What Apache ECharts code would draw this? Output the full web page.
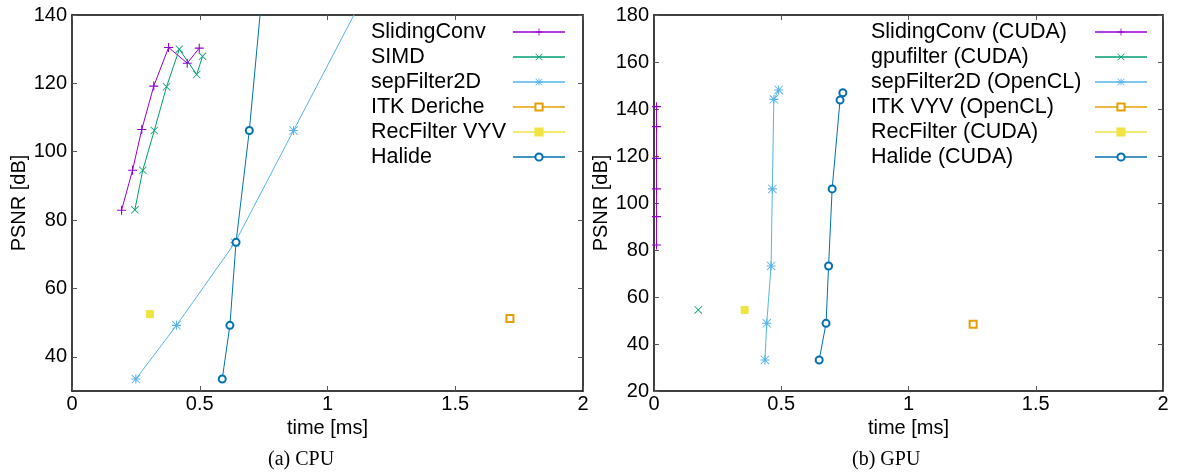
<!DOCTYPE html>
<html>
<head>
<meta charset="utf-8">
<script src="https://cdn.jsdelivr.net/npm/echarts@6/dist/echarts.min.js"></script>
<style>
html,body{margin:0;padding:0;background:#fff;}
#chart{width:1179px;height:472px;}
</style>
</head>
<body>
<div id="chart"></div>
<script>
// ---------- data ----------
var xTicks = [0, 0.5, 1, 1.5, 2];
var cpuYTicks = [40, 60, 80, 100, 120, 140];
var gpuYTicks = [20, 40, 60, 80, 100, 120, 140, 160, 180];

var cpuNames = ['SlidingConv', 'SIMD', 'sepFilter2D', 'ITK Deriche', 'RecFilter VYV', 'Halide'];
var gpuNames = ['SlidingConv (CUDA)', 'gpufilter (CUDA)', 'sepFilter2D (OpenCL)', 'ITK VYV (OpenCL)', 'RecFilter (CUDA)', 'Halide (CUDA)'];

// [time ms, PSNR dB]
var cpuSlidingConv = [[0.194, 82.9], [0.237, 94.6], [0.273, 106.5], [0.320, 119.2], [0.378, 130.5], [0.451, 125.9], [0.498, 130.3]];
var cpuSIMD = [[0.246, 83.0], [0.277, 94.6], [0.322, 106.2], [0.370, 119.0], [0.420, 130.0], [0.488, 122.6], [0.511, 127.9]];
var cpuSepFilter2D = [[0.250, 33.5], [0.409, 49.2], [0.638, 73.4], [0.867, 106.2], [1.132, 144.1], [1.160, 148.1]];
var cpuITKDeriche = [[1.714, 51.2]];
var cpuRecFilterVYV = [[0.305, 52.5]];
var cpuHalide = [[0.588, 33.5], [0.618, 49.2], [0.642, 73.5], [0.694, 106.2], [0.741, 144.0], [0.752, 147.0]];

var gpuSlidingConv = [[0.010, 82.1], [0.010, 94.2], [0.010, 106.0], [0.010, 119.0], [0.010, 132.5], [0.010, 141.0]];
var gpuGpufilter = [[0.174, 54.5]];
var gpuSepFilter2D = [[0.436, 33.2], [0.443, 48.8], [0.460, 73.2], [0.465, 106.0], [0.471, 144.1], [0.490, 148.1]];
var gpuITKVYV = [[1.254, 48.4]];
var gpuRecFilter = [[0.356, 54.5]];
var gpuHalide = [[0.649, 33.2], [0.676, 48.8], [0.686, 73.2], [0.700, 106.0], [0.731, 143.8], [0.742, 146.9]];

// ---------- styling ----------
var colors = ['#9400d3', '#009e73', '#56b4e9', '#e69f00', '#f0e442', '#0072b2'];
var PLUS = 'path://M4.4,0H5.6V10H4.4Z M0,4.4H10V5.6H0Z';
var CROSS = 'path://M0,0.7L0.7,0L10,9.3L9.3,10Z M9.3,0L10,0.7L0.7,10L0,9.3Z';
var STAR = 'path://M4.4,0H5.6V10H4.4Z M0,4.4H10V5.6H0Z M0,0.7L0.7,0L10,9.3L9.3,10Z M9.3,0L10,0.7L0.7,10L0,9.3Z';
var symbols = [PLUS, CROSS, STAR, 'emptyRect', 'rect', 'emptyCircle'];
var symSizes = [9, 8, 9, 7, 7, 7];

var FONT = 'Liberation Sans, Arial, sans-serif';

function xAx(gi, pos) {
  var bottom = pos === 'bottom';
  return {
    type: 'value', gridIndex: gi, position: pos, min: 0, max: 2,
    name: bottom ? 'time [ms]' : '', nameLocation: 'middle', nameGap: 18,
    nameTextStyle: {fontFamily: FONT, fontSize: 20, color: '#000'},
    axisLine: {show: true, onZero: false, lineStyle: {color: '#000', width: 1.5}},
    axisTick: {show: true, inside: true, length: 5, customValues: xTicks, lineStyle: {color: '#555', width: 1}},
    axisLabel: {show: bottom, customValues: xTicks, margin: 3, fontFamily: FONT, fontSize: 20, color: '#000'},
    splitLine: {show: false}
  };
}
function yAx(gi, pos, mn, mx, ticks, gap) {
  var left = pos === 'left';
  return {
    type: 'value', gridIndex: gi, position: pos, min: mn, max: mx,
    name: left ? 'PSNR [dB]' : '', nameLocation: 'middle', nameGap: gap,
    nameTextStyle: {fontFamily: FONT, fontSize: 20, color: '#000'},
    axisLine: {show: true, onZero: false, lineStyle: {color: '#000', width: 1.5}},
    axisTick: {show: true, inside: true, length: 5, customValues: ticks, lineStyle: {color: '#555', width: 1}},
    axisLabel: {show: left, customValues: ticks, margin: 5, fontFamily: FONT, fontSize: 20, color: '#000'},
    splitLine: {show: false}
  };
}

function mkSeries(name, data, idx, axisIdx) {
  var isPath = symbols[idx].indexOf('path://') === 0;
  return {
    name: name, type: 'line', data: data,
    xAxisIndex: axisIdx, yAxisIndex: axisIdx,
    symbol: symbols[idx], symbolSize: symSizes[idx], showSymbol: true,
    lineStyle: {color: colors[idx], width: 1},
    itemStyle: {color: colors[idx], borderColor: colors[idx], borderWidth: isPath ? 0 : 1},
    emphasis: {disabled: true},
    clip: true, animation: false
  };
}

var cpuData = [cpuSlidingConv, cpuSIMD, cpuSepFilter2D, cpuITKDeriche, cpuRecFilterVYV, cpuHalide];
var gpuData = [gpuSlidingConv, gpuGpufilter, gpuSepFilter2D, gpuITKVYV, gpuRecFilter, gpuHalide];
var series = [];
for (var i = 0; i < 6; i++) series.push(mkSeries(cpuNames[i], cpuData[i], i, 0));
for (var j = 0; j < 6; j++) series.push(mkSeries(gpuNames[j], gpuData[j], j, 2));

function legend(names, left, w) {
  return {
    data: names, orient: 'vertical', left: left, top: 21, padding: 0,
    align: 'right', itemWidth: 52, itemHeight: 9, itemGap: 3,
    selectedMode: false,
    lineStyle: {width: 1.5},
    formatter: function (n) { return '{a|' + n + '}'; },
    textStyle: {
      color: '#000', fontFamily: FONT, fontSize: 21.5, lineHeight: 20,
      rich: {a: {width: w, align: 'left', fontFamily: FONT, fontSize: 21.5, color: '#000', lineHeight: 20}}
    }
  };
}

var chart = echarts.init(document.getElementById('chart'), null, {renderer: 'canvas'});
chart.setOption({
  backgroundColor: '#fff',
  animation: false,
  grid: [
    {left: 72, top: 15, width: 511, height: 376},
    {left: 654, top: 15, width: 509, height: 376}
  ],
  xAxis: [xAx(0, 'bottom'), xAx(0, 'top'), xAx(1, 'bottom'), xAx(1, 'top')],
  yAxis: [yAx(0, 'left', 30, 140, cpuYTicks, 37), yAx(0, 'right', 30, 140, cpuYTicks, 37),
          yAx(1, 'left', 20, 180, gpuYTicks, 37), yAx(1, 'right', 20, 180, gpuYTicks, 37)],
  legend: [legend(cpuNames, 371, 137), legend(gpuNames, 871, 219)],
  series: series,
  graphic: [
    {type: 'text', left: 268, top: 450, style: {text: '(a) CPU', font: '20px "Liberation Serif", "Times New Roman", serif', fill: '#000'}},
    {type: 'text', left: 852, top: 450, style: {text: '(b) GPU', font: '20px "Liberation Serif", "Times New Roman", serif', fill: '#000'}}
  ]
});
</script>
</body>
</html>
